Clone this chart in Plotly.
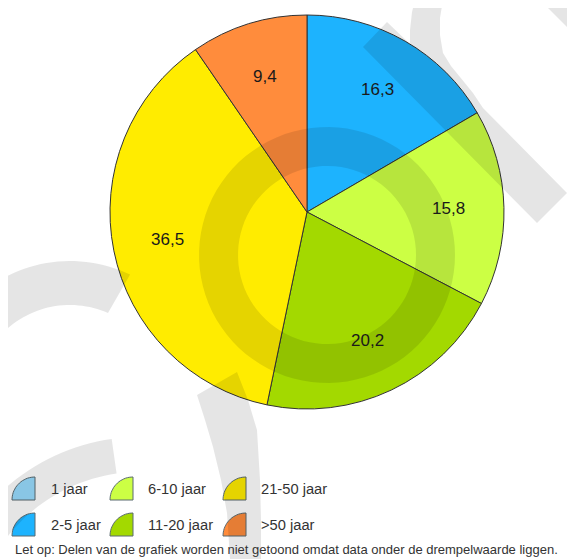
import numpy as np
import plotly.graph_objects as go

# ---- data ----
categories = ["2-5 jaar", "6-10 jaar", "11-20 jaar", "21-50 jaar", ">50 jaar"]
values = [16.3, 15.8, 20.2, 36.5, 9.4]
value_labels = ["16,3", "15,8", "20,2", "36,5", "9,4"]
colors = ["#1DB3FE", "#CCFF44", "#A3D900", "#FFEC00", "#FF8C3C"]

legend_labels = ["1 jaar", "2-5 jaar", "6-10 jaar", "11-20 jaar", "21-50 jaar", ">50 jaar"]
legend_colors = ["#99DDFF", "#1DB3FE", "#CCFF44", "#A3D900", "#FFEC00", "#FF8C3C"]
note = "Let op: Delen van de grafiek worden niet getoond omdat data onder de drempelwaarde liggen."

W, H = 575, 559
OFF = 8  # page body margin
CX, CY, R = 307, 212, 197

fig = go.Figure()
fig.add_trace(go.Pie(
    labels=categories, values=values, sort=False, direction="clockwise", rotation=0,
    marker=dict(colors=colors, line=dict(color="#333333", width=1)),
    textinfo="none", hoverinfo="label+value", showlegend=False,
    domain=dict(x=[(CX - OFF - R) / W, (CX - OFF + R) / W],
                y=[(H - (CY - OFF) - R) / H, (H - (CY - OFF) + R) / H]),
))
fig.add_trace(go.Scatter(x=[OFF, W + OFF], y=[OFF, H + OFF], mode="markers", marker=dict(opacity=0),
                         hoverinfo="skip", showlegend=False))

FONT = "Liberation Sans, Arial, Helvetica, sans-serif"
annotations = []
total = sum(values)
cum = 0.0
for v, lab in zip(values, value_labels):
    th = np.deg2rad(360.0 * (cum + v / 2) / total)
    cum += v
    rr = 0.72 * R
    annotations.append(dict(x=CX + rr * np.sin(th), y=CY - rr * np.cos(th), xref="x", yref="y",
                            text=lab, showarrow=False, font=dict(size=17, color="#1a1a1a", family=FONT)))

shapes = []

def poly(pts):
    return "M " + " L ".join(f"{x:.1f},{y:.1f}" for x, y in pts) + " Z"

def arc(cx, cy, r, a0, a1, n=40):
    a = np.deg2rad(np.linspace(a0, a1, n))
    return list(zip(cx + r * np.cos(a), cy + r * np.sin(a)))

# legend icons (quarter discs) + labels
icon_x = [12, 12, 110, 110, 223, 223]
icon_y = [477, 513, 477, 513, 477, 513]
text_x = [49, 49, 146, 146, 259, 259]
S = 23
for i, (lab, col) in enumerate(zip(legend_labels, legend_colors)):
    x0, y0 = icon_x[i], icon_y[i]
    x1, y1 = x0 + S, y0 + S
    pts = [(x1, y1)] + arc(x1, y1, S, 180, 270, 20)
    shapes.append(dict(type="path", xref="x", yref="y", path=poly(pts), fillcolor=col,
                       line=dict(color="#5a6a70", width=1), layer="above"))
    annotations.append(dict(x=text_x[i], y=y0 + S / 2, xref="x", yref="y", xanchor="left", text=lab,
                            showarrow=False, font=dict(size=14.7, color="#333333", family=FONT)))

annotations.append(dict(x=13, y=549, xref="x", yref="y", xanchor="left", text=note, showarrow=False,
                        font=dict(size=13.0, color="#333333", family=FONT)))

# ---- watermark (translucent grey) ----
wm = "rgba(0,0,0,0.10)"
def add_wm(pts):
    shapes.append(dict(type="path", xref="x", yref="y", path=poly(pts), fillcolor=wm,
                       line=dict(width=0), layer="above"))

add_wm(arc(327, 255, 128, 0, 360, 90) + arc(327, 255, 89, 360, 0, 90))          # central ring
add_wm([(363, 47), (387, 22), (410, 44), (410, 30), (412, 12), (415, 0), (416, -5), (443, -5), (443, 0),
        (440, 18), (440, 35), (443, 53), (451, 66), (460, 77), (473, 93), (483, 108), (567, 193), (537, 223)])
add_wm([(535, -5), (585, -5), (585, 45)])                                          # top-right corner
add_wm(arc(70, 400, 139, 180, 295.6, 50) + arc(70, 400, 95, 293.6, 180, 50))      # left arc
add_wm([(197, 395), (205, 420), (213, 447), (221, 480), (227, 513), (230, 559), (231, 570),
        (261, 570), (261, 520), (260, 480), (257, 430), (248, 400), (237, 372)])    # bottom stroke
add_wm(arc(140, 640, 203, 180, 262, 40) + arc(140, 640, 168, 262, 180, 40))       # lower-left arc

fig.update_layout(
    width=W, height=H, margin=dict(l=0, r=0, t=0, b=0),
    paper_bgcolor="white", plot_bgcolor="white",
    xaxis=dict(range=[OFF, W + OFF], visible=False, fixedrange=True, domain=[0, 1]),
    yaxis=dict(range=[H + OFF, OFF], visible=False, fixedrange=True, domain=[0, 1]),
    shapes=shapes, annotations=annotations, showlegend=False,
)
fig.write_html("out.html")
